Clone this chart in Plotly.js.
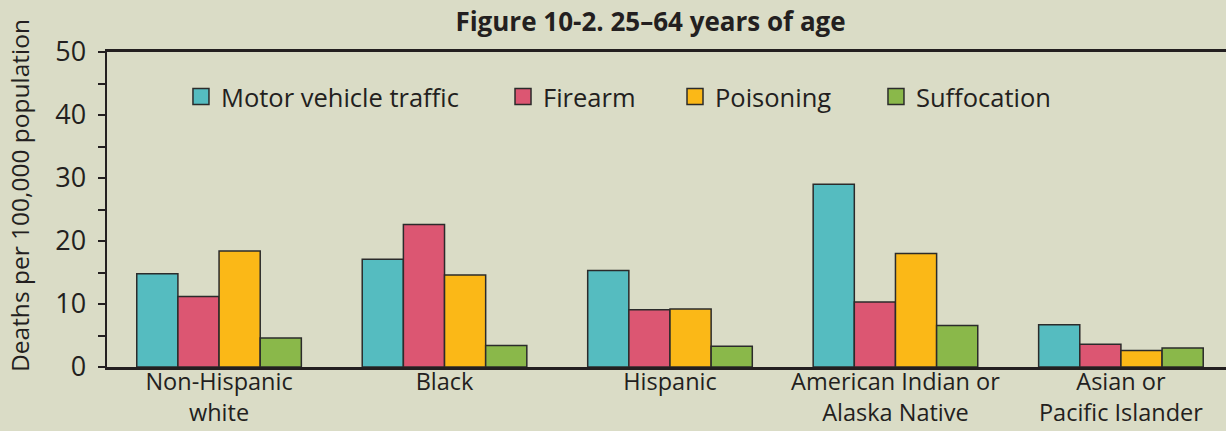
<!DOCTYPE html>
<html>
<head>
<meta charset="utf-8">
<script src="https://cdn.plot.ly/plotly-3.0.1.min.js"></script>
<style>
html,body{margin:0;padding:0;background:#dadcc6;}
#chart{width:1226px;height:431px;}
</style>
</head>
<body>
<div id="chart"></div>
<script>
const categories = ["Non-Hispanic<br>white", "Black", "Hispanic", "American Indian or<br>Alaska Native", "Asian or<br>Pacific Islander"];
const seriesNames = ["Motor vehicle traffic", "Firearm", "Poisoning", "Suffocation"];
const motorVehicle = [14.8, 17.1, 15.3, 29.0, 6.7];
const firearm = [11.2, 22.6, 9.1, 10.3, 3.6];
const poisoning = [18.4, 14.6, 9.2, 18.0, 2.6];
const suffocation = [4.6, 3.4, 3.3, 6.6, 3.0];
const yTicks = [0, 10, 20, 30, 40, 50];

const colors = ["#55bcc0", "#dc5672", "#fbb817", "#8ab84a"];
const seriesValues = [motorVehicle, firearm, poisoning, suffocation];
const FONT = "'Open Sans', sans-serif";
const TXT = "#231f20";
const legendIds = ["legend", "legend2", "legend3", "legend4"];
const legendX = [0.0661, 0.3539, 0.5076, 0.6872];

const traces = [];
seriesValues.forEach((vals, i) => {
  traces.push({
    type: "bar",
    x: categories,
    y: vals,
    name: seriesNames[i],
    showlegend: false,
    marker: {color: colors[i], line: {color: "#2b2b2b", width: 1.5}},
    hoverinfo: "y+name"
  });
});
seriesValues.forEach((vals, i) => {
  traces.push({
    type: "scatter",
    mode: "markers",
    x: [null],
    y: [null],
    name: seriesNames[i],
    legend: legendIds[i],
    marker: {symbol: "square", size: 16, color: colors[i], line: {color: "#2b2b2b", width: 1.5}},
    showlegend: true
  });
});

const layout = {
  width: 1226,
  height: 431,
  paper_bgcolor: "#dadcc6",
  plot_bgcolor: "#dadcc6",
  font: {family: FONT, color: TXT, size: 24},
  margin: {l: 107, r: 0, t: 52, b: 63.5, pad: 0},
  title: {
    text: "<b>Figure 10-2. 25–64 years of age</b>",
    font: {family: FONT, size: 26, color: TXT},
    x: 0.5306, xanchor: "center",
    y: 0.949, yanchor: "middle"
  },
  barmode: "group",
  bargap: 0.27,
  bargroupgap: 0,
  showlegend: true,
  xaxis: {
    type: "category",
    range: [-0.497, 4.466],
    showline: true,
    linecolor: "#231f20",
    linewidth: 3,
    mirror: true,
    ticks: "",
    ticklabelstandoff: -8,
    showgrid: false,
    zeroline: false,
    tickfont: {family: FONT, size: 23.5, color: TXT},
    fixedrange: true
  },
  yaxis: {
    range: [0, 50],
    tickvals: yTicks,
    ticktext: yTicks.map(String),
    showline: true,
    linecolor: "#231f20",
    linewidth: 2.5,
    ticks: "outside",
    ticklen: 7,
    tickwidth: 2,
    tickcolor: "#231f20",
    ticklabelstandoff: 6,
    minor: {dtick: 5, ticks: "outside", ticklen: 7, tickwidth: 2, tickcolor: "#231f20", showgrid: false},
    showgrid: false,
    zeroline: false,
    tickfont: {family: FONT, size: 27, color: TXT},
    fixedrange: true
  },
  annotations: [{
    text: "Deaths per 100,000 population",
    xref: "paper", yref: "paper",
    x: -0.0777, y: 0.543,
    xanchor: "center", yanchor: "middle",
    textangle: -90,
    showarrow: false,
    font: {family: FONT, size: 24.5, color: TXT}
  }]
};
legendIds.forEach((id, i) => {
  layout[id] = {
    orientation: "h",
    x: legendX[i], xanchor: "left",
    y: 0.857, yanchor: "middle",
    bgcolor: "rgba(0,0,0,0)",
    font: {family: FONT, size: 25.5, color: TXT},
    itemwidth: 30
  };
});

Plotly.newPlot("chart", traces, layout, {displayModeBar: false, staticPlot: true});
</script>
</body>
</html>
